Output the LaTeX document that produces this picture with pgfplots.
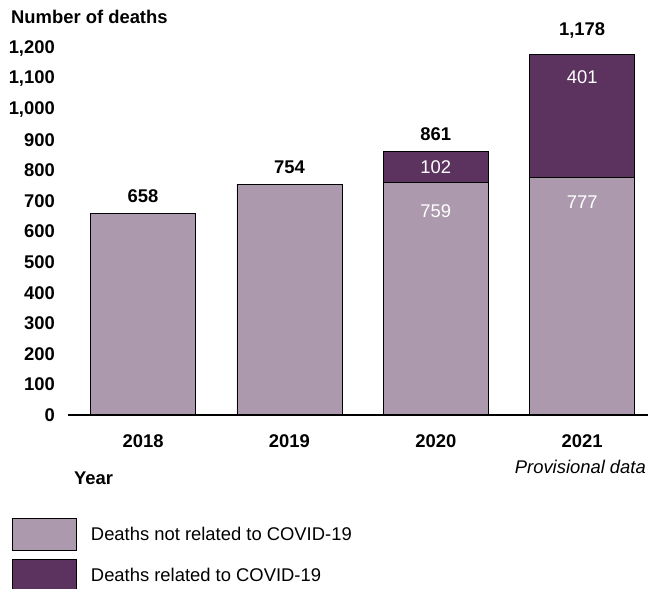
\documentclass[border=0pt]{standalone}
\usepackage{fontspec}
\setmainfont{Liberation Sans}
\usepackage{pgfplots}
\pgfplotsset{compat=1.18}
\definecolor{lightbar}{HTML}{AC99AD}
\definecolor{darkbar}{HTML}{5C335E}
\begin{document}
\fontsize{18.4}{21}\selectfont
\begin{tikzpicture}
\useasboundingbox (0,0) rectangle (648pt,-589pt);
\node[anchor=west, inner sep=0pt, font=\fontsize{18.4}{21}\selectfont\bfseries] at (11pt,-17pt) {Number of deaths};
\begin{axis}[
  at={(68pt,-415pt)}, anchor=south west,
  scale only axis, width=580pt, height=367pt,
  xmin=-0.513, xmax=3.45, ymin=0, ymax=1200,
  ybar stacked, bar width=105pt,
  axis line style={draw=none},
  major tick length=0pt,
  xtick={0,1,2,3}, xticklabels={2018,2019,2020,2021},
  ytick={0,100,...,1200},
  tick label style={font=\fontsize{18.4}{21}\selectfont\bfseries},
  /pgf/number format/assume math mode=true,
  /pgf/number format/1000 sep={,},
  yticklabel style={anchor=east, inner sep=0pt, xshift=-13pt},
  xticklabel style={anchor=north, inner sep=0pt, yshift=-19pt},
  clip=false,
  legend style={draw=none, fill=none, at={(axis description cs:-0.0966,-0.2807)}, anchor=north west,
    inner sep=0pt, row sep=8pt, column sep=14pt, font=\fontsize{18.4}{21}\selectfont,
    cells={anchor=west}, nodes={inner sep=0pt}},
  legend cell align=left,
  legend image code/.code={\draw[#1, draw=black, line width=0.8pt] (0pt,-15.6pt) rectangle (64pt,16.4pt);},
]
\addplot[fill=lightbar, draw=black, line width=0.8pt] coordinates {(0,658) (1,754) (2,759) (3,777)};
\addplot[fill=darkbar, draw=black, line width=0.8pt] coordinates {(0,0) (1,0) (2,102) (3,401)};
\legend{Deaths not related to COVID-19, Deaths related to COVID-19}
\coordinate (axl) at (rel axis cs:0,0);
\coordinate (axr) at (rel axis cs:1,0);
\coordinate (t0) at (axis cs:0,658);
\coordinate (t1) at (axis cs:1,754);
\coordinate (t2) at (axis cs:2,861);
\coordinate (t3) at (axis cs:3,1178);
\coordinate (s759) at (axis cs:2,667);
\coordinate (s102) at (axis cs:2,810);
\coordinate (s777) at (axis cs:3,697);
\coordinate (s401) at (axis cs:3,1105);
\end{axis}
\draw[line width=2pt] (axl) -- (axr);
\begin{scope}[every node/.style={inner sep=0pt, font=\fontsize{18.4}{21}\selectfont\bfseries, anchor=south}]
\node[yshift=11pt] at (t0) {658};
\node[yshift=11pt] at (t1) {754};
\node[yshift=11pt] at (t2) {861};
\node[yshift=16pt] at (t3) {1,178};
\end{scope}
\begin{scope}[every node/.style={inner sep=0pt, font=\fontsize{18.4}{21}\selectfont, text=white}]
\node at (s759) {759};
\node at (s102) {102};
\node at (s777) {777};
\node at (s401) {401};
\end{scope}
\node[anchor=west, inner sep=0pt, font=\fontsize{18.4}{21}\selectfont\bfseries] at (74pt,-478pt) {Year};
\node[anchor=east, inner sep=0pt, font=\fontsize{18.4}{21}\selectfont\itshape] at (646pt,-467pt) {Provisional data};
\end{tikzpicture}
\end{document}
